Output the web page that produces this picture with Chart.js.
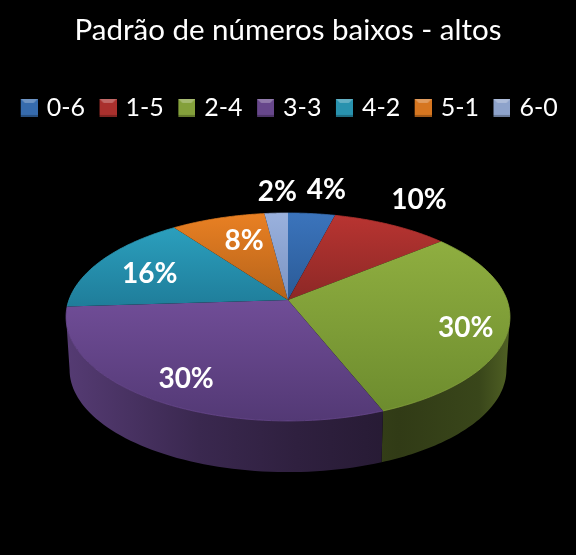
<!DOCTYPE html>
<html>
<head>
<meta charset="utf-8">
<title>Padrão de números baixos - altos</title>
<script src="https://cdn.jsdelivr.net/npm/chart.js@4/dist/chart.umd.min.js"></script>
<style>
  html, body { margin: 0; padding: 0; background: #000; }
  #wrap { width: 576px; height: 555px; }
</style>
</head>
<body>
<div id="wrap"><canvas id="pieChart" width="576" height="555"></canvas></div>
<script>
var chartTitle = 'Padrão de números baixos - altos';
var categories = ['0-6', '1-5', '2-4', '3-3', '4-2', '5-1', '6-0'];
var percents = [4, 10, 30, 30, 16, 8, 2];
var topColors = ['#3b74bc', '#b83431', '#8fae40', '#704d97', '#2b9fbd', '#e98023', '#9ab1dd'];
var lowColors = ['#2a5a96', '#8c2826', '#6d8c2e', '#533975', '#1f7d9a', '#b5631a', '#7a93c2'];

// nudges for the percent labels, px from the point at 70% of the radius
var labelNudge = [[21, -47], [56, -45], [25, 10], [-11, 13], [-6, 3], [7, 1], [-2, -45]];

// view of the tilted disc
var topFace = { cx: 288, cy: 300, a: 219, b: 101.2, k: 0.163 };
var baseFace = { cx: 288, cy: 353, a: 215.5, b: 99.7, k: 0.163 };
var wallShade = [[0, 0.76], [0.3, 0.52], [0.52, 0.42], [0.75, 0.34], [0.93, 0.4], [1, 0.56]];

function project(face, angle, r) {
  var u = Math.cos(angle) * r, v = Math.sin(angle) * r;
  var d = 1 - face.k * v;
  return { x: face.cx + face.a * u / d, y: face.cy + face.b * v / d };
}

function shade(hex, f) {
  var n = parseInt(hex.slice(1), 16);
  return 'rgb(' + Math.round((n >> 16) * f) + ',' + Math.round(((n >> 8) & 255) * f) + ',' + Math.round((n & 255) * f) + ')';
}

function rimPath(ctx, face, start, end, reverse) {
  var steps = 60;
  for (var i = 0; i <= steps; i++) {
    var t = reverse ? 1 - i / steps : i / steps;
    var p = project(face, start + (end - start) * t, 1);
    ctx.lineTo(p.x, p.y);
  }
}

// swatch sits right of the canvas centre so the gap to the text is smaller
function legendSwatch(i) {
  var c = document.createElement('canvas');
  c.width = 23; c.height = 18;
  var g = c.getContext('2d');
  g.translate(6, 0);
  g.fillStyle = shade(topColors[i], 0.92);
  g.fillRect(0, 0, 17, 18);
  g.fillStyle = 'rgba(255,255,255,0.28)';
  g.beginPath(); g.moveTo(0, 0); g.lineTo(17, 0); g.lineTo(13, 4); g.lineTo(4, 4); g.fill();
  g.fillStyle = 'rgba(0,0,0,0.25)';
  g.fillRect(0, 16, 17, 2);
  return c;
}

var pie3d = {
  id: 'pie3d',
  beforeDatasetDraw: function(chart, args) {
    var ctx = chart.ctx;
    var arcs = args.meta.data;
    var wallFrom = Math.asin(topFace.k);
    var wallTo = Math.PI - wallFrom;
    ctx.save();

    // outer wall, only the part that faces the viewer
    arcs.forEach(function(arc, i) {
      var start = Math.max(arc.startAngle, wallFrom);
      var end = Math.min(arc.endAngle, wallTo);
      if (start >= end) return;
      var grad = ctx.createLinearGradient(66, 0, 510, 0);
      wallShade.forEach(function(s) { grad.addColorStop(s[0], shade(topColors[i], s[1])); });
      ctx.beginPath();
      rimPath(ctx, topFace, start, end, false);
      rimPath(ctx, baseFace, start, end, true);
      ctx.closePath();
      ctx.fillStyle = grad;
      ctx.fill();
    });

    // top face, slices use the angles the pie controller worked out
    arcs.forEach(function(arc, i) {
      var ys = [topFace.cy];
      for (var t = 0; t <= 20; t++) {
        ys.push(project(topFace, arc.startAngle + (arc.endAngle - arc.startAngle) * t / 20, 1).y);
      }
      var grad = ctx.createLinearGradient(0, Math.min.apply(null, ys), 0, Math.max.apply(null, ys));
      grad.addColorStop(0, topColors[i]);
      grad.addColorStop(1, lowColors[i]);
      ctx.beginPath();
      ctx.moveTo(topFace.cx, topFace.cy);
      rimPath(ctx, topFace, arc.startAngle, arc.endAngle, false);
      ctx.closePath();
      ctx.fillStyle = grad;
      ctx.fill();
    });

    // thin light edge along the rim
    arcs.forEach(function(arc, i) {
      ctx.beginPath();
      rimPath(ctx, topFace, arc.startAngle, arc.endAngle, false);
      ctx.strokeStyle = shade(topColors[i], 0.95);
      ctx.lineWidth = 0.8;
      ctx.stroke();
    });
    ctx.restore();
    return false;
  },
  afterDatasetsDraw: function(chart) {
    var ctx = chart.ctx;
    var arcs = chart.getDatasetMeta(0).data;
    ctx.save();
    ctx.font = 'bold 28px Lato';
    ctx.fillStyle = '#fff';
    ctx.textAlign = 'center';
    ctx.textBaseline = 'middle';
    arcs.forEach(function(arc, i) {
      var p = project(topFace, (arc.startAngle + arc.endAngle) / 2, 0.7);
      ctx.fillText(percents[i] + '%', p.x + labelNudge[i][0], p.y + labelNudge[i][1]);
    });
    ctx.restore();
  }
};

var swatches = categories.map(function(c, i) { return legendSwatch(i); });

new Chart(document.getElementById('pieChart').getContext('2d'), {
  type: 'pie',
  data: {
    labels: categories,
    datasets: [{ data: percents, backgroundColor: topColors, borderWidth: 0 }]
  },
  plugins: [pie3d],
  options: {
    responsive: false,
    animation: false,
    plugins: {
      title: {
        display: true,
        text: chartTitle,
        color: '#fff',
        font: { family: 'Lato', size: 29.5, weight: 'normal' },
        padding: { top: 13, bottom: 35 }
      },
      legend: {
        position: 'top',
        labels: {
          color: '#fff',
          font: { family: 'Lato', size: 25 },
          usePointStyle: true,
          pointStyleWidth: 16,
          padding: 12,
          generateLabels: function(chart) {
            return categories.map(function(c, i) {
              return { text: c, fontColor: '#fff', pointStyle: swatches[i], index: i, lineWidth: 0, strokeStyle: 'transparent', fillStyle: topColors[i] };
            });
          }
        }
      },
      tooltip: { enabled: false }
    }
  }
});
</script>
</body>
</html>
